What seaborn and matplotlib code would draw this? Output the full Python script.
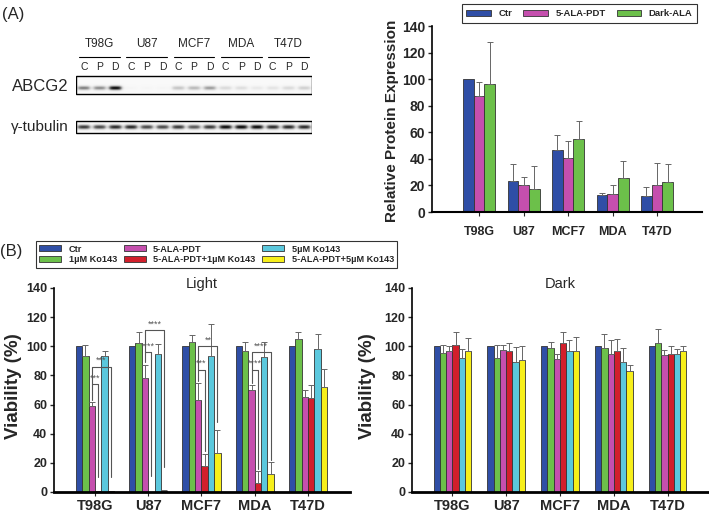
import numpy as np
import pandas as pd
import seaborn as sns
import matplotlib.pyplot as plt
import matplotlib.patches as mpatches

# ---- data ----
cells = ['T98G', 'U87', 'MCF7', 'MDA', 'T47D']

# (A) ABCG2 relative protein expression
a_groups = ['Ctr', '5-ALA-PDT', 'Dark-ALA']
a_ctr = [100, 23, 46.5, 12.5, 12]
a_pdt = [87, 20.5, 41, 13.5, 20.5]
a_dark = [96, 17.5, 55, 25.5, 22.5]
a_ctr_err = [0, 13.5, 11.5, 2, 7]
a_pdt_err = [11, 6, 12.5, 7, 16.5]
a_dark_err = [32, 17, 13.5, 13, 13.5]

# western blot band darkness, lanes C/P/D for each cell line
abcg2_bands = [0.55, 0.5, 0.95, 0.03, 0.03, 0.03, 0.3, 0.35, 0.45, 0.2, 0.18, 0.12, 0.15, 0.2, 0.25]
tubulin_bands = [0.8, 0.75, 0.85, 0.85, 0.75, 0.75, 0.8, 0.7, 0.8, 0.95, 0.95, 0.95, 0.85, 0.85, 0.85]

# (B) viability
b_groups = ['Ctr', '1µM Ko143', '5-ALA-PDT', '5-ALA-PDT+1µM Ko143', '5µM Ko143', '5-ALA-PDT+5µM Ko143']
light_ctr = [100, 100, 100, 100, 100]
light_ko1 = [93.5, 102.5, 103, 97, 105]
light_pdt = [59, 78, 63, 70, 65]
light_pdt_ko1 = [0.5, 0, 18, 6.5, 64.5]
light_ko5 = [93, 95, 93.5, 92.5, 98]
light_pdt_ko5 = [1, 1, 26.5, 12.5, 72]
light_ctr_err = [0, 0, 0, 0, 0]
light_ko1_err = [7.5, 7.5, 5, 6, 5]
light_pdt_err = [3, 9.5, 11.5, 3.5, 5]
light_pdt_ko1_err = [0, 0, 8, 8, 9]
light_ko5_err = [4, 6.5, 22, 10.5, 10.5]
light_pdt_ko5_err = [0, 0.5, 16, 8, 12.5]

dark_ctr = [100, 100, 100, 100, 100]
dark_ko1 = [95.5, 92, 99, 98.5, 102.5]
dark_pdt = [97, 97.5, 91, 95, 94]
dark_pdt_ko1 = [101, 96.5, 102.5, 96.5, 94.5]
dark_ko5 = [92, 89.5, 97, 89.5, 95]
dark_pdt_ko5 = [97, 90.5, 97, 83, 97]
dark_ctr_err = [0, 0, 0, 0, 0]
dark_ko1_err = [5.5, 9, 4, 10, 9.5]
dark_pdt_err = [3, 3.5, 3.5, 9, 3.5]
dark_pdt_ko1_err = [8.5, 5.5, 7.5, 8.5, 6]
dark_ko5_err = [6, 10, 7.5, 9, 3]
dark_pdt_ko5_err = [9, 9.5, 9.5, 4.5, 3]

# significance brackets: (cell index, bar i, bar j, top, left leg end, right leg end, label)
light_sig = [
    (0, 2, 3, 74, 63, 10, '***'), (0, 2, 5, 86, 74, 10, '***'),
    (1, 2, 3, 96, 89, 11, '****'), (1, 2, 5, 111, 96, 17, '****'),
    (2, 2, 3, 84, 76, 28, '***'), (2, 2, 5, 100, 84, 48, '**'),
    (3, 2, 3, 84, 75, 16, '****'), (3, 2, 5, 96, 84, 22, '****'),
]

a_colors = ['#2f4ea6', '#c54fae', '#6cc04a']
b_colors = ['#2f4ea6', '#6cc04a', '#c54fae', '#d21f2b', '#5bc8dd', '#f7ef1a']

sns.set_theme(style='white')
plt.rcParams['font.family'] = ['Liberation Sans', 'DejaVu Sans']

W, H = 709, 517
fig = plt.figure(figsize=(W / 100, H / 100), dpi=100)


def px_axes(left, top, right, bottom):
    return fig.add_axes([left / W, 1 - bottom / H, (right - left) / W, (bottom - top) / H])


def draw_bars(ax, values, errors, groups, palette, width):
    rows = []
    for g, vals in zip(groups, values):
        for c, v in zip(cells, vals):
            rows.append({'cell': c, 'group': g, 'value': v})
    df = pd.DataFrame(rows)
    sns.barplot(data=df, x='cell', y='value', hue='group', order=cells, hue_order=groups,
                palette=palette, saturation=1, width=width, errorbar=None, legend=False,
                edgecolor='#333333', linewidth=0.6, ax=ax)
    for container, errs in zip(ax.containers, errors):
        for bar, e in zip(container, errs):
            if e <= 0:
                continue
            xc = bar.get_x() + bar.get_width() / 2
            ax.errorbar(xc, bar.get_height(), yerr=[[0], [e]], fmt='none', ecolor='#666666',
                        elinewidth=0.7, capsize=2.2, capthick=0.7, zorder=1)


def style_axes(ax, xlim, spine_w, xlab_size, ylab_size, pad):
    ax.set_ylim(0, 140)
    ax.set_yticks(range(0, 141, 20))
    ax.set_xlim(*xlim)
    ax.set_xlabel('')
    for s in ['top', 'right']:
        ax.spines[s].set_visible(False)
    ax.spines['left'].set_linewidth(1.2)
    ax.spines['left'].set_color('black')
    ax.spines['bottom'].set_linewidth(spine_w)
    ax.spines['bottom'].set_color('black')
    ax.spines['left'].set_bounds(0, 140)
    ax.tick_params(axis='y', direction='out', length=3, width=1, labelsize=ylab_size, pad=2, left=True)
    ax.tick_params(axis='x', direction='out', length=3, width=0.8, labelsize=xlab_size,
                   pad=pad, bottom=True)
    for lbl in ax.get_xticklabels() + ax.get_yticklabels():
        lbl.set_fontweight('bold')


# ---- (A) blot ----
def strip_image(bands, height_px, center_px, sigma_px, lane_px=15.73, over=4):
    n = len(bands)
    w = int(n * lane_px * over)
    h = int(height_px * over)
    xs = (np.arange(w) + 0.5) / over / lane_px - 0.5
    ys = (np.arange(h) + 0.5) / over
    img = np.full((h, w), 0.05)
    vprof = np.exp(-0.5 * ((ys - center_px) / sigma_px) ** 2)
    for k, b in enumerate(bands):
        hprof = 1 / (1 + np.exp(-(xs - (k - 0.38)) * 14)) / (1 + np.exp((xs - (k + 0.38)) * 14))
        img += b * np.outer(vprof, hprof)
    return np.clip(img, 0, 1)


ax_blot = px_axes(76, 30, 312, 140)
ax_blot.set_xlim(-0.5, 14.5)
ax_blot.axis('off')
ax_blot.imshow(strip_image(abcg2_bands, 18, 12, 1.5), extent=(-0.5, 14.5, 94, 76),
               cmap='Greys', vmin=0, vmax=1, aspect='auto', interpolation='bilinear')
ax_blot.imshow(strip_image(tubulin_bands, 12, 6, 1.6), extent=(-0.5, 14.5, 133, 121),
               cmap='Greys', vmin=0, vmax=1, aspect='auto', interpolation='bilinear')
ax_blot.add_patch(mpatches.Rectangle((-0.5, 76), 15, 18, fill=False, lw=1, ec='black'))
ax_blot.add_patch(mpatches.Rectangle((-0.5, 121), 15, 12, fill=False, lw=1, ec='black'))
ax_blot.set_xlim(-0.5, 14.5)
ax_blot.set_ylim(140, 30)
for gi, name in enumerate(cells):
    ax_blot.text(gi * 3 + 1, 44, name, ha='center', va='center', fontsize=8.5)
    ax_blot.plot([gi * 3 - 0.3, gi * 3 + 2.3], [57, 57], color='black', lw=0.8)
for k in range(15):
    ax_blot.text(k, 67, 'CPD'[k % 3], ha='center', va='center', fontsize=7.5)
ax_blot.text(-0.95, 86, 'ABCG2', ha='right', va='center', fontsize=12, clip_on=False)
ax_blot.text(-0.95, 127, 'γ-tubulin', ha='right', va='center', fontsize=11, clip_on=False)

# ---- (A) bar chart ----
ax_a = px_axes(432, 26, 702, 212)
draw_bars(ax_a, [a_ctr, a_pdt, a_dark], [a_ctr_err, a_pdt_err, a_dark_err], a_groups, a_colors, 0.72)
style_axes(ax_a, (-1.06, 5.01), 1.5, 9, 10, 7)
ax_a.set_ylabel('Relative Protein Expression', fontsize=11, fontweight='bold')
ax_a.yaxis.set_label_coords(-0.122, 0.49)

a_handles = [mpatches.Patch(facecolor=c, edgecolor='#333333', lw=0.6) for c in a_colors]
leg_a = fig.legend(a_handles, a_groups, ncol=3, loc='center', mode='expand',
                   bbox_to_anchor=(457 / W, 1 - 25 / H, 245 / W, 23 / H),
                   prop={'weight': 'bold', 'size': 6.8}, frameon=True, fancybox=False,
                   edgecolor='black', handlelength=2.6, handleheight=0.6, borderpad=0.5)
leg_a.get_frame().set_linewidth(0.8)

# ---- (B) light / dark ----
light_vals = [light_ctr, light_ko1, light_pdt, light_pdt_ko1, light_ko5, light_pdt_ko5]
light_errs = [light_ctr_err, light_ko1_err, light_pdt_err, light_pdt_ko1_err, light_ko5_err, light_pdt_ko5_err]
dark_vals = [dark_ctr, dark_ko1, dark_pdt, dark_pdt_ko1, dark_ko5, dark_pdt_ko5]
dark_errs = [dark_ctr_err, dark_ko1_err, dark_pdt_err, dark_pdt_ko1_err, dark_ko5_err, dark_pdt_ko5_err]

ax_l = px_axes(54, 288, 350, 492)
draw_bars(ax_l, light_vals, light_errs, b_groups, b_colors, 0.72)
style_axes(ax_l, (-0.77, 4.79), 2, 10.5, 9, 2)
ax_l.set_ylabel('Viability (%)', fontsize=13.5, fontweight='bold')
ax_l.yaxis.set_label_coords(-0.108, 0.52)
ax_l.text(0.5, 1.0, 'Light', transform=ax_l.transAxes, ha='center', va='baseline', fontsize=10.5)

for g, i, j, top, lb, rb, lab in light_sig:
    bi = ax_l.containers[i][g]
    bj = ax_l.containers[j][g]
    xi = bi.get_x() + bi.get_width() / 2
    xj = bj.get_x() + bj.get_width() / 2
    ax_l.plot([xi, xi, xj, xj], [lb, top, top, rb], color='#555555', lw=0.8, zorder=3)
    ax_l.text((xi + xj) / 2, top + 1.0, lab, ha='center', va='bottom', fontsize=6.5,
              color='#555555', zorder=3)

ax_d = px_axes(412, 288, 708, 492)
draw_bars(ax_d, dark_vals, dark_errs, b_groups, b_colors, 0.7)
style_axes(ax_d, (-0.75, 4.75), 2, 10.5, 9, 2)
ax_d.set_ylabel('Viability (%)', fontsize=13.5, fontweight='bold')
ax_d.yaxis.set_label_coords(-0.122, 0.52)
ax_d.text(0.5, 1.0, 'Dark', transform=ax_d.transAxes, ha='center', va='baseline', fontsize=10.5)

b_handles = [mpatches.Patch(facecolor=c, edgecolor='#333333', lw=0.6) for c in b_colors]
leg_b = fig.legend(b_handles, b_groups, ncol=3, loc='center', mode='expand',
                   bbox_to_anchor=(31 / W, 1 - 270 / H, 371 / W, 31 / H),
                   prop={'weight': 'bold', 'size': 6.6}, frameon=True, fancybox=False,
                   edgecolor='black', handlelength=2.4, handleheight=0.6, borderpad=0.4,
                   labelspacing=0.2)
leg_b.get_frame().set_linewidth(0.8)

fig.text(2 / W, 1 - 14 / H, '(A)', ha='left', va='center', fontsize=12)
fig.text(0 / W, 1 - 251 / H, '(B)', ha='left', va='center', fontsize=12)

fig.savefig('out.png', dpi=100)
